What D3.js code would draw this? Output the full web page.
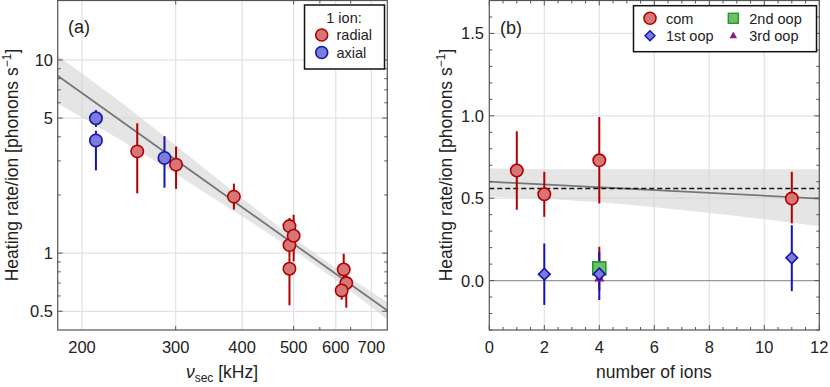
<!DOCTYPE html>
<html lang="en">
<head>
<meta charset="UTF-8">
<title>Heating rate</title>
<script src="https://d3js.org/d3.v7.min.js"></script>
<style>
  body { margin: 0; background: #fff; }
  svg { font-family: "Liberation Sans", Arial, sans-serif; }
</style>
</head>
<body>
<svg width="830" height="387"></svg>
<script>
// ---- panel (a): single ion, rate vs secular frequency ----
var radialNu   = [254, 300.5, 386, 491, 491, 491, 500, 621, 628, 615.5];
var radialRate = [3.36, 2.87, 1.96, 1.38, 1.10, 0.83, 1.23, 0.823, 0.70, 0.641];
var radialLo   = [2.04, 2.15, 1.68, 1.22, 0.95, 0.537, 0.906, 0.70, 0.522, 0.574];
var radialHi   = [4.7, 3.56, 2.29, 1.52, 1.25, 0.95, 1.58, 0.993, 0.80, 0.70];

var axialNu   = [212.4, 212.4, 285.8];
var axialRate = [4.99, 3.83, 3.11];
var axialLo   = [4.5, 2.68, 2.18];
var axialHi   = [5.5, 4.3, 4.03];

var fitNu   = [180, 750];
var fitRate = [8.27, 0.504];
var bandNu  = [180, 250, 350, 450, 550, 650, 750];
var bandLo  = [5.95, 3.51, 1.96, 1.257, 0.863, 0.616, 0.452];
var bandHi  = [10.5, 5.37, 2.57, 1.495, 0.991, 0.722, 0.556];

var aXTicks = [200, 300, 400, 500, 600, 700];
var aXMarks = [300, 500, 560, 640];
var aYTicks = [0.5, 1, 5, 10];
var aYMinor = [0.6, 0.7, 0.8, 0.9, 2, 3, 4, 6, 7, 8, 9];

// ---- panel (b): rate vs number of ions ----
var comN    = [1, 2, 4, 11];
var comRate = [0.668, 0.524, 0.73, 0.498];
var comLo   = [0.43, 0.387, 0.468, 0.347];
var comHi   = [0.906, 0.66, 0.993, 0.66];

var oop1N    = [2, 4, 11];
var oop1Rate = [0.039, 0.04, 0.138];
var oop1Lo   = [-0.148, -0.118, -0.064];
var oop1Hi   = [0.225, 0.175, 0.336];

var oop2N = [4], oop2Rate = [0.074], oop2Lo = [-0.06], oop2Hi = [0.205];
var oop3N = [4], oop3Rate = [0.013];

var bFitN    = [0, 12];
var bFitRate = [0.6, 0.498];
var bBandN   = [0, 4, 8, 12];
var bBandLo  = [0.51, 0.475, 0.41, 0.33];
var bBandHi  = [0.68, 0.675, 0.675, 0.675];
var bMean    = 0.559;

var bXTicks = [0, 2, 4, 6, 8, 10, 12];
var bYTicks = [0, 0.5, 1.0, 1.5];

var RED = "#b00000", REDF = "#d77676", BLUE = "#1414b4", BLUEF = "#7b7bd8";
var GREEN = "#249a24", GREENF = "#6cc06c", PURPLE = "#8a1a8a";
var FRAME = "#555", GRID = "#e2e2e2";
var TICKFS = 16.5, TITLEFS = 17.5;

var svg = d3.select("svg");

function zip(xs, ys) { return xs.map(function(v, i) { return [v, ys[i]]; }); }

function frameTicks(g, x, y, xs, ys, len) {
  var x0 = x.range()[0], x1 = x.range()[1], y0 = y.range()[0], y1 = y.range()[1];
  xs.forEach(function(t) {
    g.append("line").attr("x1", x(t)).attr("x2", x(t)).attr("y1", y0).attr("y2", y0 - len(t, "x")).attr("stroke", FRAME);
    g.append("line").attr("x1", x(t)).attr("x2", x(t)).attr("y1", y1).attr("y2", y1 + len(t, "x")).attr("stroke", FRAME);
  });
  ys.forEach(function(t) {
    g.append("line").attr("y1", y(t)).attr("y2", y(t)).attr("x1", x0).attr("x2", x0 + len(t, "y")).attr("stroke", FRAME);
    g.append("line").attr("y1", y(t)).attr("y2", y(t)).attr("x1", x1).attr("x2", x1 - len(t, "y")).attr("stroke", FRAME);
  });
}

function yTitle(g, cx, cy) {
  var t = g.append("text")
    .attr("transform", "translate(" + cx + "," + cy + ")rotate(-90)")
    .attr("text-anchor", "middle")
    .attr("font-size", TITLEFS)
    .attr("fill", "#222");
  t.append("tspan").text("Heating rate/ion [phonons s");
  t.append("tspan").attr("font-size", 12).attr("dy", -7).text("\u22121");
  t.append("tspan").attr("dy", 7).text("]");
}

function errorBars(g, x, y, xs, lo, hi, color) {
  g.selectAll(null).data(xs).enter().append("line")
    .attr("x1", function(d) { return x(d); }).attr("x2", function(d) { return x(d); })
    .attr("y1", function(d, i) { return y(lo[i]); }).attr("y2", function(d, i) { return y(hi[i]); })
    .attr("stroke", color).attr("stroke-width", 2);
}

function circles(g, x, y, xs, ys, fill, stroke, r) {
  g.selectAll(null).data(xs).enter().append("circle")
    .attr("cx", function(d) { return x(d); }).attr("cy", function(d, i) { return y(ys[i]); })
    .attr("r", r).attr("fill", fill).attr("stroke", stroke).attr("stroke-width", 1.6);
}

// ================= panel (a) =================
var xa = d3.scaleLog().domain([180, 750]).range([57.7, 387.3]);
var ya = d3.scaleLog().domain([0.4, 20.3]).range([330, 0.5]);
var ga = svg.append("g");

ga.selectAll(".gx").data(aXTicks).enter().append("line")
  .attr("x1", xa).attr("x2", xa).attr("y1", 0.5).attr("y2", 330)
  .attr("stroke", GRID).attr("stroke-width", 1.2);
ga.selectAll(".gy").data(aYTicks).enter().append("line")
  .attr("y1", ya).attr("y2", ya).attr("x1", 57.7).attr("x2", 387.3)
  .attr("stroke", GRID).attr("stroke-width", 1.2);

var clipA = svg.append("clipPath").attr("id", "clipa");
clipA.append("rect").attr("x", 57.7).attr("y", 0.5).attr("width", 329.6).attr("height", 329.5);

ga.append("path")
  .datum(bandNu)
  .attr("clip-path", "url(#clipa)")
  .attr("d", d3.area()
    .x(function(d) { return xa(d); })
    .y0(function(d, i) { return ya(bandLo[i]); })
    .y1(function(d, i) { return ya(bandHi[i]); })
    .curve(d3.curveMonotoneX))
  .attr("fill", "#d4d4d4").attr("fill-opacity", 0.6);

ga.append("path")
  .datum(zip(fitNu, fitRate))
  .attr("d", d3.line().x(function(d) { return xa(d[0]); }).y(function(d) { return ya(d[1]); }))
  .attr("stroke", "#777").attr("stroke-width", 1.8).attr("fill", "none");

errorBars(ga, xa, ya, radialNu, radialLo, radialHi, RED);
errorBars(ga, xa, ya, axialNu, axialLo, axialHi, BLUE);
circles(ga, xa, ya, radialNu, radialRate, REDF, RED, 6.2);
circles(ga, xa, ya, axialNu, axialRate, BLUEF, BLUE, 6.2);

ga.append("rect").attr("x", 57.7).attr("y", 0.5).attr("width", 329.6).attr("height", 329.5)
  .attr("fill", "none").attr("stroke", FRAME).attr("stroke-width", 1.2);

frameTicks(ga, xa, ya, aXMarks, aYTicks.concat(aYMinor), function(t, ax) {
  if (ax === "x") return (t === 300 || t === 500) ? 4 : 3;
  return aYTicks.indexOf(t) >= 0 ? 5 : 3;
});

ga.selectAll(".tx").data(aXTicks).enter().append("text")
  .attr("x", xa).attr("y", 353).attr("text-anchor", "middle")
  .attr("font-size", TICKFS).attr("fill", "#222").text(function(d) { return d; });
ga.selectAll(".ty").data(aYTicks).enter().append("text")
  .attr("x", 53).attr("y", function(d) { return ya(d) + 6; }).attr("text-anchor", "end")
  .attr("font-size", TICKFS).attr("fill", "#222").text(function(d) { return d; });

var xt = ga.append("text").attr("x", 222).attr("y", 378).attr("text-anchor", "middle")
  .attr("font-size", TITLEFS).attr("fill", "#222");
xt.append("tspan").attr("font-style", "italic").text("\u03bd");
xt.append("tspan").attr("font-size", 12).attr("dy", 3.5).text("sec");
xt.append("tspan").attr("dy", -3.5).text(" [kHz]");

yTitle(ga, 18, 165);

ga.append("text").attr("x", 68).attr("y", 33).attr("font-size", 18).attr("fill", "#222").text("(a)");

// legend (a)
var la = ga.append("g");
la.append("rect").attr("x", 304.5).attr("y", 5).attr("width", 80).attr("height", 64)
  .attr("fill", "#fff").attr("stroke", "#111").attr("stroke-width", 1.5);
la.append("text").attr("x", 344).attr("y", 23).attr("text-anchor", "middle")
  .attr("font-size", 14.5).attr("fill", "#222").text("1 ion:");
[["radial", REDF, RED], ["axial", BLUEF, BLUE]].forEach(function(d, i) {
  var yy = 35 + i * 17.5;
  la.append("circle").attr("cx", 321.7).attr("cy", yy).attr("r", 6).attr("fill", d[1]).attr("stroke", d[2]).attr("stroke-width", 1.6);
  la.append("text").attr("x", 336.5).attr("y", yy + 5).attr("font-size", 14.5).attr("fill", "#222").text(d[0]);
});

// ================= panel (b) =================
var xb = d3.scaleLinear().domain([0, 12]).range([489.3, 819.3]);
var yb = d3.scaleLinear().domain([-0.3, 1.7]).range([330, 0.5]);
var gb = svg.append("g");

gb.selectAll(".gx").data([2, 4, 6, 8, 10]).enter().append("line")
  .attr("x1", xb).attr("x2", xb).attr("y1", 0.5).attr("y2", 330)
  .attr("stroke", GRID).attr("stroke-width", 1.2);
gb.selectAll(".gy").data([0.5, 1.0, 1.5]).enter().append("line")
  .attr("y1", yb).attr("y2", yb).attr("x1", 489.3).attr("x2", 819.3)
  .attr("stroke", GRID).attr("stroke-width", 1.2);

gb.append("path")
  .datum(bBandN)
  .attr("d", d3.area()
    .x(function(d) { return xb(d); })
    .y0(function(d, i) { return yb(bBandLo[i]); })
    .y1(function(d, i) { return yb(bBandHi[i]); })
    .curve(d3.curveMonotoneX))
  .attr("fill", "#d4d4d4").attr("fill-opacity", 0.6);

gb.append("line").attr("x1", 489.3).attr("x2", 819.3).attr("y1", yb(0)).attr("y2", yb(0))
  .attr("stroke", "#999").attr("stroke-width", 1.3);

gb.append("path")
  .datum(zip(bFitN, bFitRate))
  .attr("d", d3.line().x(function(d) { return xb(d[0]); }).y(function(d) { return yb(d[1]); }))
  .attr("stroke", "#777").attr("stroke-width", 1.8).attr("fill", "none");

gb.append("line").attr("x1", 489.3).attr("x2", 819.3).attr("y1", yb(bMean)).attr("y2", yb(bMean))
  .attr("stroke", "#111").attr("stroke-width", 1.6).attr("stroke-dasharray", "5,3");

errorBars(gb, xb, yb, comN, comLo, comHi, RED);
errorBars(gb, xb, yb, oop2N, oop2Lo, oop2Hi, RED);
errorBars(gb, xb, yb, oop1N, oop1Lo, oop1Hi, BLUE);
circles(gb, xb, yb, comN, comRate, REDF, RED, 6.2);

gb.selectAll(".sq").data(oop2N).enter().append("rect")
  .attr("x", function(d) { return xb(d) - 6.5; })
  .attr("y", function(d, i) { return yb(oop2Rate[i]) - 6.5; })
  .attr("width", 13).attr("height", 13)
  .attr("fill", GREENF).attr("stroke", GREEN).attr("stroke-width", 1.6);

gb.selectAll(".tri").data(oop3N).enter().append("path")
  .attr("transform", function(d, i) { return "translate(" + xb(d) + "," + yb(oop3Rate[i]) + ")"; })
  .attr("d", d3.symbol().type(d3.symbolTriangle).size(45))
  .attr("fill", PURPLE);

gb.selectAll(".dia").data(oop1N).enter().append("path")
  .attr("transform", function(d, i) { return "translate(" + xb(d) + "," + yb(oop1Rate[i]) + ")rotate(45)"; })
  .attr("d", d3.symbol().type(d3.symbolSquare).size(68))
  .attr("fill", BLUEF).attr("stroke", BLUE).attr("stroke-width", 1.6);

gb.append("rect").attr("x", 489.3).attr("y", 0.5).attr("width", 330).attr("height", 329.5)
  .attr("fill", "none").attr("stroke", FRAME).attr("stroke-width", 1.2);

frameTicks(gb, xb, yb, d3.range(0, 12.01, 0.5), d3.range(-0.3, 1.71, 0.1).map(function(v) { return +v.toFixed(1); }),
  function(t, ax) {
    if (ax === "x") return Math.abs(t % 2) < 1e-6 ? 5 : 3;
    return Math.abs(Math.round(t * 10) % 5) === 0 ? 5 : 3;
  });

gb.selectAll(".tx").data(bXTicks).enter().append("text")
  .attr("x", xb).attr("y", 353).attr("text-anchor", "middle")
  .attr("font-size", TICKFS).attr("fill", "#222").text(function(d) { return d; });
gb.selectAll(".ty").data(bYTicks).enter().append("text")
  .attr("x", 484).attr("y", function(d) { return yb(d) + 6; }).attr("text-anchor", "end")
  .attr("font-size", TICKFS).attr("fill", "#222").text(d3.format(".1f"));

gb.append("text").attr("x", 654).attr("y", 378).attr("text-anchor", "middle")
  .attr("font-size", TITLEFS).attr("fill", "#222").text("number of ions");

yTitle(gb, 452, 165);

gb.append("text").attr("x", 500).attr("y", 34).attr("font-size", 18).attr("fill", "#222").text("(b)");

// legend (b)
var lb = gb.append("g");
lb.append("rect").attr("x", 633.5).attr("y", 5.7).attr("width", 183).attr("height", 46)
  .attr("fill", "#fff").attr("stroke", "#111").attr("stroke-width", 1.5);
lb.append("circle").attr("cx", 650).attr("cy", 18.3).attr("r", 6).attr("fill", REDF).attr("stroke", RED).attr("stroke-width", 1.6);
lb.append("text").attr("x", 666).attr("y", 23.5).attr("font-size", 14.5).attr("fill", "#222").text("com");
lb.append("path").attr("transform", "translate(650,35.7)rotate(45)")
  .attr("d", d3.symbol().type(d3.symbolSquare).size(50))
  .attr("fill", BLUEF).attr("stroke", BLUE).attr("stroke-width", 1.4);
lb.append("text").attr("x", 666).attr("y", 41).attr("font-size", 14.5).attr("fill", "#222").text("1st oop");
lb.append("rect").attr("x", 728.3).attr("y", 13.3).attr("width", 10).attr("height", 10)
  .attr("fill", GREENF).attr("stroke", GREEN).attr("stroke-width", 1.4);
lb.append("text").attr("x", 749.3).attr("y", 23.5).attr("font-size", 14.5).attr("fill", "#222").text("2nd oop");
lb.append("path").attr("transform", "translate(733.3,36)")
  .attr("d", d3.symbol().type(d3.symbolTriangle).size(25)).attr("fill", PURPLE);
lb.append("text").attr("x", 749.3).attr("y", 41).attr("font-size", 14.5).attr("fill", "#222").text("3rd oop");
</script>
</body>
</html>
